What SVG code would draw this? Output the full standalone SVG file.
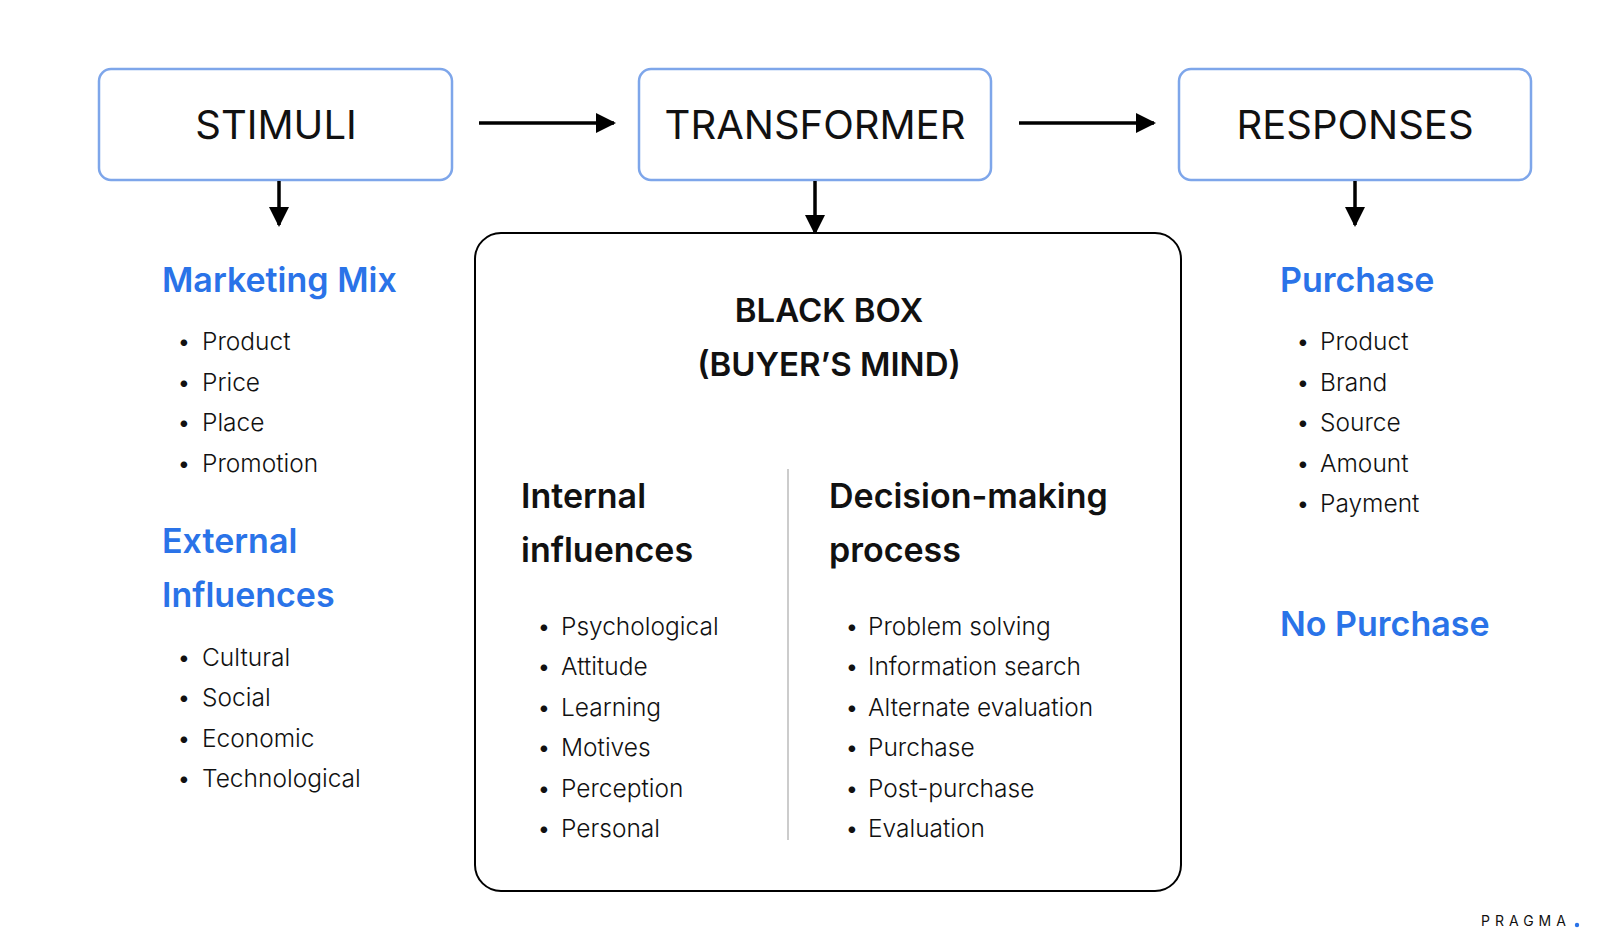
<svg xmlns="http://www.w3.org/2000/svg" width="1600" height="941" viewBox="0 0 1600 941">
<defs>
<marker id="ah" markerWidth="20" markerHeight="20" refX="18" refY="10" orient="auto" markerUnits="userSpaceOnUse" viewBox="0 0 20 20"><path d="M0,0 L20,10 L0,20 z" fill="#000"/></marker>
<style>
text{font-family:Inter,"Noto Sans",sans-serif;fill:#111}
.box{fill:#fff;stroke:#7ea6ea;stroke-width:2.5}
.t{font-size:40px;text-anchor:middle}
.h{font-size:34px;font-weight:600}
.b{fill:#2a73e8}
.i{font-size:24.5px;fill:#222;font-weight:300}
.c{stroke:#000;stroke-width:3.5;fill:none}
</style>
</defs>
<rect width="1600" height="941" fill="#fff"/>
<g id="stimuli"><rect class="box" x="99" y="69" width="353" height="111" rx="12"/><text class="t" x="276" y="139">STIMULI</text></g>
<g id="transformer"><rect class="box" x="639" y="69" width="352" height="111" rx="12"/><text class="t" x="815" y="139">TRANSFORMER</text></g>
<g id="responses"><rect class="box" x="1179" y="69" width="352" height="111" rx="12"/><text class="t" x="1355" y="139">RESPONSES</text></g>
<g id="connectors">
<line class="c" x1="479" y1="123" x2="614" y2="123" marker-end="url(#ah)"/>
<line class="c" x1="1019" y1="123" x2="1154" y2="123" marker-end="url(#ah)"/>
<line class="c" x1="279" y1="181" x2="279" y2="225" marker-end="url(#ah)"/>
<line class="c" x1="815" y1="181" x2="815" y2="233" marker-end="url(#ah)"/>
<line class="c" x1="1355" y1="181" x2="1355" y2="225" marker-end="url(#ah)"/>
</g>
<g id="blackbox">
<rect x="475" y="233" width="706" height="658" rx="26" fill="#fff" stroke="#000" stroke-width="2"/>
<text x="829" y="322" font-size="33" font-weight="600" text-anchor="middle">BLACK BOX</text>
<text x="829" y="376" font-size="33" font-weight="600" text-anchor="middle">(BUYER’S MIND)</text>
<line x1="788" y1="469" x2="788" y2="840" stroke="#bbb" stroke-width="1.5"/>
<text class="h" x="521" y="508">Internal</text><text class="h" x="521" y="562">influences</text>
<text class="h" x="829" y="508">Decision-making</text><text class="h" x="829" y="562">process</text>
<g class="i">
<text x="537" y="635">•</text><text x="561" y="635">Psychological</text>
<text x="537" y="675">•</text><text x="561" y="675">Attitude</text>
<text x="537" y="716">•</text><text x="561" y="716">Learning</text>
<text x="537" y="756">•</text><text x="561" y="756">Motives</text>
<text x="537" y="797">•</text><text x="561" y="797">Perception</text>
<text x="537" y="837">•</text><text x="561" y="837">Personal</text>
<text x="845" y="635">•</text><text x="868" y="635">Problem solving</text>
<text x="845" y="675">•</text><text x="868" y="675">Information search</text>
<text x="845" y="716">•</text><text x="868" y="716">Alternate evaluation</text>
<text x="845" y="756">•</text><text x="868" y="756">Purchase</text>
<text x="845" y="797">•</text><text x="868" y="797">Post-purchase</text>
<text x="845" y="837">•</text><text x="868" y="837">Evaluation</text>
</g>
</g>
<g id="stimuli-list">
<text class="h b" x="162" y="292">Marketing Mix</text>
<text class="h b" x="162" y="553">External</text><text class="h b" x="162" y="607">Influences</text>
<g class="i">
<text x="177" y="350">•</text><text x="202" y="350">Product</text>
<text x="177" y="391">•</text><text x="202" y="391">Price</text>
<text x="177" y="431">•</text><text x="202" y="431">Place</text>
<text x="177" y="472">•</text><text x="202" y="472">Promotion</text>
<text x="177" y="666">•</text><text x="202" y="666">Cultural</text>
<text x="177" y="706">•</text><text x="202" y="706">Social</text>
<text x="177" y="747">•</text><text x="202" y="747">Economic</text>
<text x="177" y="787">•</text><text x="202" y="787">Technological</text>
</g>
</g>
<g id="responses-list">
<text class="h b" x="1280" y="292">Purchase</text>
<text class="h b" x="1280" y="636">No Purchase</text>
<g class="i">
<text x="1296" y="350">•</text><text x="1320" y="350">Product</text>
<text x="1296" y="391">•</text><text x="1320" y="391">Brand</text>
<text x="1296" y="431">•</text><text x="1320" y="431">Source</text>
<text x="1296" y="472">•</text><text x="1320" y="472">Amount</text>
<text x="1296" y="512">•</text><text x="1320" y="512">Payment</text>
</g>
</g>
<g id="logo"><text x="1481" y="926" font-size="14" letter-spacing="5" fill="#111">PRAGMA</text><circle cx="1577" cy="925" r="2.2" fill="#2a73e8"/></g>
</svg>
